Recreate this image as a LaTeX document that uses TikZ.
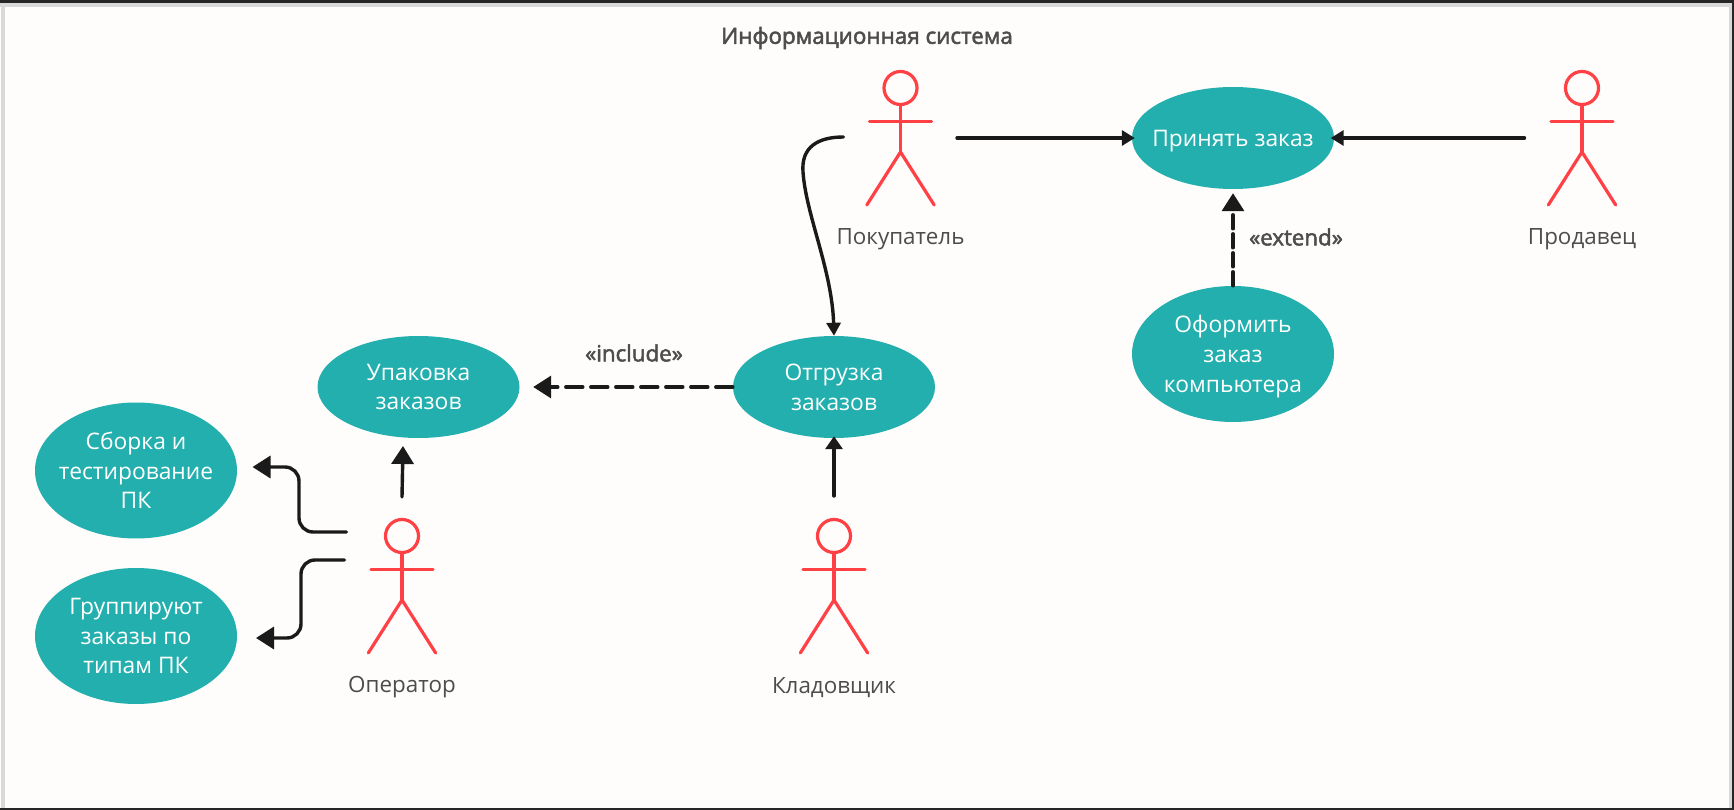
\documentclass[tikz,border=0pt]{standalone}
\usepackage{fontspec}
\setmainfont{Open Sans}
\newfontfamily\semifont{Open Sans}[FakeBold=2.2]
\usetikzlibrary{arrows.meta,shapes.geometric}

\definecolor{paper}{HTML}{FFFDFB}
\definecolor{teal}{HTML}{22AFAE}
\definecolor{actorred}{HTML}{FF4045}
\definecolor{inkblack}{HTML}{1A1A1A}
\definecolor{inkgray}{HTML}{4D4D4D}

\tikzset{
	usecase/.style={ellipse,fill=teal,text=white,inner sep=-30,minimum width=202,align=center,
		text depth=0pt,font=\fontsize{22.8}{29.7}\selectfont},
	usecase2/.style={usecase,minimum height=102},
	usecase3/.style={usecase,minimum height=136},
	actorhead/.style={circle,draw=actorred,line width=3.2,fill=none,inner sep=0pt,minimum size=33},
	actorline/.style={draw=actorred,line width=3.2,line cap=round},
	caption/.style={text=inkgray,font=\fontsize{22.4}{26}\selectfont},
	stereo/.style={text=inkgray,font=\fontsize{22.3}{26}\semifont},
	flow/.style={draw=inkblack,line width=3.4,line cap=round},
	smalltip/.style={-{Triangle[length=13,width=15]}},
	bigtip/.style={-{Triangle[length=18,width=22]}},
	depend/.style={flow,bigtip,dash pattern=on 17 off 8}
}

\begin{document}
\begin{tikzpicture}[x=1pt,y=-1pt]

% frame
\useasboundingbox (0,0) rectangle (1734,810);
\fill[paper] (0,0) rectangle (1734,810);
\fill[black!85] (0,0) rectangle (1734,3);
\fill[black!15] (0,3) rectangle (1734,7);
\fill[black!15] (1,3) rectangle (5,810);
\fill[black!15] (1729,3) rectangle (1732,810);
\fill[black!85] (1732,3) rectangle (1734,810);
\fill[black!85] (0,808) rectangle (1734,810);

\node[text=inkgray,font=\fontsize{22.4}{26}\semifont] (title) at (867,38) {Информационная система};

% use cases
\node[usecase3] (sbor) at (136,470.5) {Сборка и\\тестирование\\ПК};
\node[usecase3] (grup) at (136,636) {Группируют\\заказы по\\типам ПК};
\node[usecase2] (upak) at (418.5,387) {Упаковка\\заказов};
\node[usecase2] (otgr) at (834,387) {Отгрузка\\заказов};
\node[usecase2] (prin) at (1233,138) {Принять заказ};
\node[usecase3] (ofor) at (1233,354) {Оформить\\заказ\\компьютера};

% actors
\foreach \n/\x/\y/\t in {pok/900.5/88/Покупатель,prod/1582/88/Продавец,oper/402/536/Оператор,klad/834/536/Кладовщик}{
	\node[actorhead] (\n) at (\x,\y) {};
	\draw[actorline] (\n.south)--(\x,\y+64);
	\draw[actorline] (\x-31,\y+33.5)--(\x+31,\y+33.5);
	\draw[actorline] (\x-33.7,\y+117)--(\x,\y+64)--(\x+33.7,\y+117);
	\node[caption] (\n label) at (\x,\y+151.5) {\t};
}

% free ends
\coordinate (pokL) at (843.5,137);
\coordinate (pokR) at (957,138);
\coordinate (prodL) at (1524.5,138);
\coordinate (kladT) at (834,496);
\coordinate (operT) at (402,497);
\coordinate (operA) at (346.5,532);
\coordinate (operB) at (344.5,560);
\coordinate (upakIn) at (403,446);
\coordinate (sborIn) at (252.5,467);
\coordinate (grupIn) at (256,638);

% connectors
\draw[flow,smalltip,shorten >=-3] (pokR)--(prin.west);
\draw[flow,smalltip,shorten >=-3.5] (prodL)--(prin.east);
\draw[flow,-{Triangle[length=13,width=14]}] (pokL)
	.. controls (818,137) and (801,147) .. (803,172)
	.. controls (806,215) and (832,270) .. (otgr.north);
\draw[flow,-{Triangle[length=13,width=17]},shorten >=-2] (kladT)--(otgr.south);
\draw[flow,bigtip] (operT)--(upakIn);
\draw[flow,bigtip,rounded corners=14] (operA)--(299,532)--(299,467)--(sborIn);
\draw[flow,bigtip,rounded corners=14] (operB)--(301,560)--(301,638)--(grupIn);
\draw[depend,shorten >=13.5] (otgr.west)--(upak.east);
\draw[depend,dash pattern=on 14 off 5,shorten >=4] (ofor.north)--(prin.south);

\node[stereo] (incl) at (634,353) {«include»};
\node[stereo] (extn) at (1296,237) {«extend»};

\end{tikzpicture}
\end{document}
